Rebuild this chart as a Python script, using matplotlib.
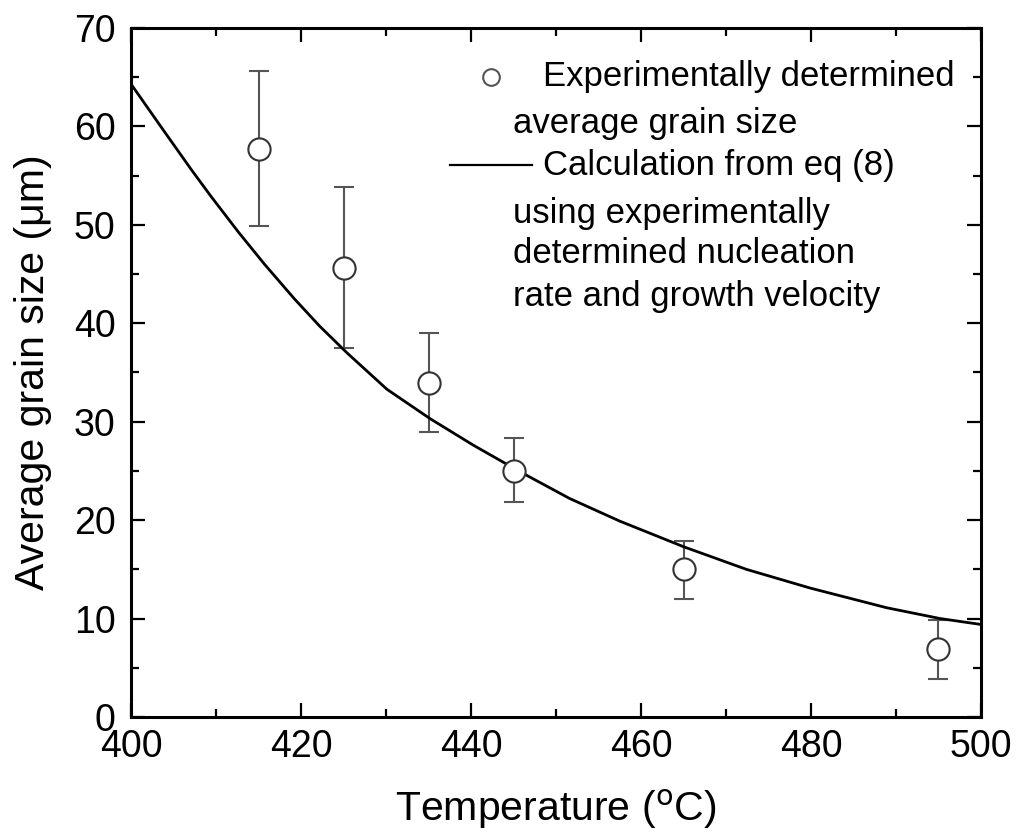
import matplotlib
matplotlib.use("Agg")
import matplotlib.pyplot as plt
from matplotlib.ticker import MultipleLocator

plt.rcParams['font.family'] = ['Liberation Sans', 'DejaVu Sans']

# measured grain sizes
temp_exp = [415, 425, 435, 445, 465, 495]
size_exp = [57.7, 45.6, 33.9, 25.0, 15.0, 6.9]
err_hi = [65.6, 53.8, 39.0, 28.3, 17.9, 9.9]
err_lo = [49.9, 37.5, 29.0, 21.8, 12.0, 3.9]

# calculated curve, eq (8)
temp_calc = [400, 403.9, 407.1, 409.4, 412.6, 415.7, 419.2, 422.2, 425.4,
             430.1, 435.2, 440.3, 445.8, 451.6, 457.5, 465, 472.4, 479.9,
             488.9, 495.2, 500]
size_calc = [64.3, 59.5, 55.6, 52.9, 49.3, 46.0, 42.5, 39.7, 37.0,
             33.3, 30.3, 27.6, 24.9, 22.2, 19.9, 17.3, 15.0, 13.1,
             11.1, 10.0, 9.4]

fig = plt.figure(figsize=(10.19, 8.38), dpi=100)
ax = fig.add_axes([0.1286, 0.1444, 0.8341, 0.8222])

yerr = [[s - l for s, l in zip(size_exp, err_lo)],
        [h - s for s, h in zip(size_exp, err_hi)]]
ax.errorbar(temp_exp, size_exp, yerr=yerr, fmt='none', ecolor='#555555',
            elinewidth=1.5, capsize=7, capthick=1.5, zorder=2)
ax.plot(temp_calc, size_calc, color='black', lw=2.0, zorder=3)
ax.plot(temp_exp, size_exp, 'o', ms=16, mfc='white', mec='#333333',
        mew=1.5, zorder=4)

ax.set_xlim(400, 500)
ax.set_ylim(0, 70)
ax.xaxis.set_major_locator(MultipleLocator(20))
ax.xaxis.set_minor_locator(MultipleLocator(10))
ax.yaxis.set_major_locator(MultipleLocator(10))
ax.yaxis.set_minor_locator(MultipleLocator(5))
ax.tick_params(which='both', direction='in', top=True, right=True,
               width=1.6, labelsize=27)
ax.tick_params(which='major', length=10)
ax.tick_params(which='minor', length=5.5)
ax.tick_params(axis='x', which='major', pad=9)
ax.tick_params(axis='y', which='major', pad=11)
for sp in ax.spines.values():
    sp.set_linewidth(2.2)

ax.set_xlabel('Temperature ($^{\\rm o}$C)', fontsize=29.5, labelpad=16)
ax.set_ylabel('Average grain size (μm)', fontsize=29.5, labelpad=16)

# hand-made legend with hanging text lines
fs = 25
tr = ax.transAxes
ax.plot([0.4235], [0.929], 'o', ms=12, mfc='white', mec='#555555', mew=1.5,
        transform=tr, clip_on=False)
ax.text(0.485, 0.929, 'Experimentally determined', fontsize=fs, va='center', transform=tr)
ax.text(0.449, 0.862, 'average grain size', fontsize=fs, va='center', transform=tr)
ax.plot([0.375, 0.472], [0.801, 0.801], color='black', lw=1.6, transform=tr)
ax.text(0.485, 0.801, 'Calculation from eq (8)', fontsize=fs, va='center', transform=tr)
ax.text(0.449, 0.731, 'using experimentally', fontsize=fs, va='center', transform=tr)
ax.text(0.449, 0.673, 'determined nucleation', fontsize=fs, va='center', transform=tr)
ax.text(0.449, 0.610, 'rate and growth velocity', fontsize=fs, va='center', transform=tr)

fig.savefig('out.png', dpi=100)
